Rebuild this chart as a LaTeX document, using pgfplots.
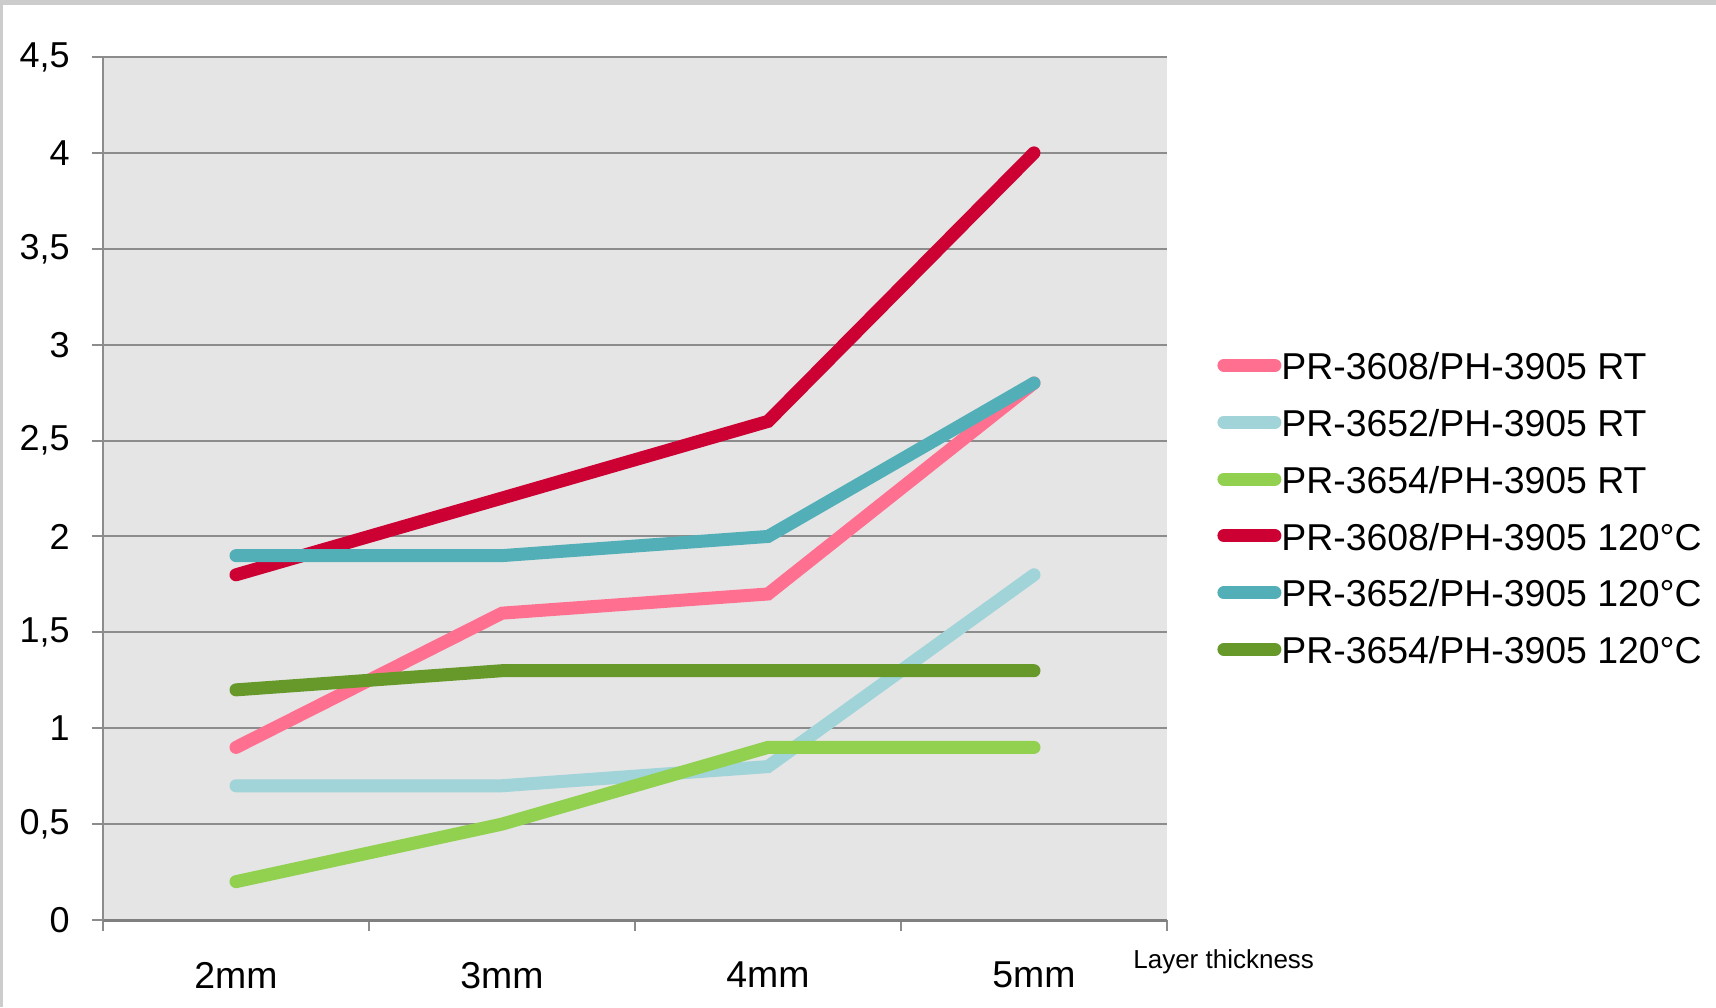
\documentclass[border=0pt]{standalone}
\usepackage{pgfplots}
\pgfplotsset{compat=1.18}
\usepackage{fontspec}
\setmainfont{Liberation Sans}

\definecolor{framegray}{HTML}{CCCCCC}
\definecolor{plotbg}{HTML}{E5E5E5}
\definecolor{gridgray}{HTML}{8C8C8C}
\definecolor{axisgray}{HTML}{808080}
\definecolor{cPink}{HTML}{FF7090}
\definecolor{cLightBlue}{HTML}{A0D4D8}
\definecolor{cLightGreen}{HTML}{92D050}
\definecolor{cCrimson}{HTML}{CC0033}
\definecolor{cTeal}{HTML}{52AFB7}
\definecolor{cDarkGreen}{HTML}{66992A}

\begin{document}
\begin{tikzpicture}[x=1pt,y=1pt]
\useasboundingbox (0,0) rectangle (858,503.5);
\fill[white] (0,0) rectangle (858,503.5);
\fill[framegray] (0,501) rectangle (858,503.5);
\fill[framegray] (0,0) rectangle (1.5,503.5);
\begin{axis}[
  at={(51.5pt,43.5pt)}, anchor=south west,
  scale only axis, width=532pt, height=431.5pt,
  xmin=-0.5, xmax=3.5, ymin=0, ymax=4.5,
  axis background/.style={fill=plotbg},
  axis x line*=bottom, axis y line*=left,
  x axis line style={axisgray, line width=1.5pt},
  y axis line style={gridgray, line width=1pt},
  xtick={0,1,2,3}, xticklabels={2mm,3mm,4mm,5mm},
  minor xtick={-0.5,0.5,1.5,2.5,3.5},
  major x tick style={draw=none},
  minor x tick style={gridgray, line width=1pt},
  ytick={0,0.5,...,4.5},
  major tick length=5.5pt, minor tick length=5.5pt,
  tick align=outside,
  tick style={gridgray, line width=1pt},
  ymajorgrids, grid style={gridgray, line width=1pt},
  /pgf/number format/.cd, use comma, fixed, assume math mode=true, /pgfplots/.cd,
  tick label style={inner sep=0pt},
  yticklabel style={anchor=east, xshift=-11pt, font=\fontsize{18}{21}\selectfont},
  xticklabel style={anchor=north, yshift=-15.3pt, font=\fontsize{18.7}{21}\selectfont},
  xlabel={Layer thickness},
  xlabel style={at={(rel axis cs:0.968,-0.0487)}, anchor=west, inner sep=0pt,
    font=\fontsize{13}{15}\selectfont},
  legend style={at={(rel axis cs:1.047,0.472)}, anchor=west, draw=none, fill=none,
    font=\fontsize{18.7}{21}\selectfont, inner sep=0pt, row sep=11.4pt, column sep=0pt,
    nodes={inner sep=0pt, text height=13pt, text depth=4pt}},
  legend cell align=left,
  legend image code/.code={\draw[#1, line cap=round] (3pt,2.6pt) -- (28.5pt,2.6pt);},
  every axis plot/.append style={line width=6.5pt, line cap=round, line join=miter, mark=none},
  clip=false,
]
\addplot[cPink] coordinates {(0,0.9) (1,1.6) (2,1.7) (3,2.8)};
\addlegendentry{PR-3608/PH-3905 RT}
\addplot[cLightBlue] coordinates {(0,0.7) (1,0.7) (2,0.8) (3,1.8)};
\addlegendentry{PR-3652/PH-3905 RT}
\addplot[cLightGreen] coordinates {(0,0.2) (1,0.5) (2,0.9) (3,0.9)};
\addlegendentry{PR-3654/PH-3905 RT}
\addplot[cCrimson] coordinates {(0,1.8) (1,2.2) (2,2.6) (3,4.0)};
\addlegendentry{PR-3608/PH-3905 120°C}
\addplot[cTeal] coordinates {(0,1.9) (1,1.9) (2,2.0) (3,2.8)};
\addlegendentry{PR-3652/PH-3905 120°C}
\addplot[cDarkGreen] coordinates {(0,1.2) (1,1.3) (2,1.3) (3,1.3)};
\addlegendentry{PR-3654/PH-3905 120°C}
\end{axis}
\end{tikzpicture}
\end{document}
